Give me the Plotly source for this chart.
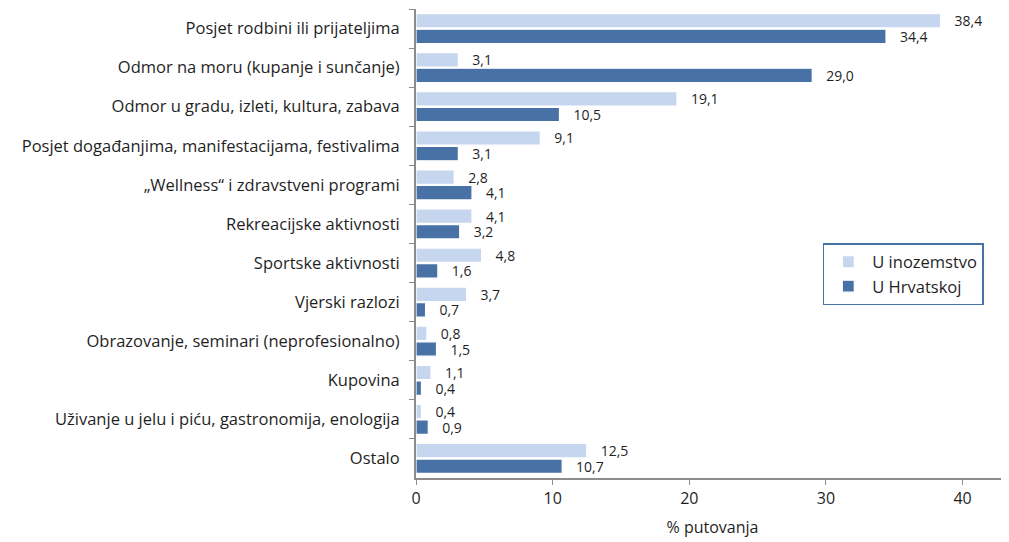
import plotly.graph_objects as go

categories = [
    "Posjet rodbini ili prijateljima",
    "Odmor na moru (kupanje i sunčanje)",
    "Odmor u gradu, izleti, kultura, zabava",
    "Posjet događanjima, manifestacijama, festivalima",
    "„Wellness“ i zdravstveni programi",
    "Rekreacijske aktivnosti",
    "Sportske aktivnosti",
    "Vjerski razlozi",
    "Obrazovanje, seminari (neprofesionalno)",
    "Kupovina",
    "Uživanje u jelu i piću, gastronomija, enologija",
    "Ostalo",
]
abroad = [38.4, 3.1, 19.1, 9.1, 2.8, 4.1, 4.8, 3.7, 0.8, 1.1, 0.4, 12.5]
domestic = [34.4, 29.0, 10.5, 3.1, 4.1, 3.2, 1.6, 0.7, 1.5, 0.4, 0.9, 10.7]
x_ticks = [0, 10, 20, 30, 40]

FONT = "Open Sans"
TEXT = "#1f1f1f"
AXIS = "#8c8c8c"

fig = go.Figure()
for name, vals, color in [
    ("U inozemstvo", abroad, "#C5D6EE"),
    ("U Hrvatskoj", domestic, "#4872A6"),
]:
    fig.add_trace(
        go.Bar(
            y=categories,
            x=vals,
            name=name,
            orientation="h",
            marker=dict(color=color, line=dict(color="white", width=1.2)),
            texttemplate="   %{x:.1f}",
            textposition="outside",
            constraintext="none",
            textfont=dict(family=FONT, size=14, color=TEXT),
            cliponaxis=False,
        )
    )

# page body has an 8px margin, so the figure is 8px smaller than the window
fig.update_layout(
    width=1001,
    height=534,
    margin=dict(l=408, r=0, t=1, b=64),
    barmode="group",
    bargap=0.2,
    bargroupgap=0.08,
    separators=",.",
    plot_bgcolor="white",
    paper_bgcolor="white",
    font=dict(family=FONT, size=16, color=TEXT),
    legend=dict(
        x=0.686,
        y=0.501,
        xanchor="left",
        yanchor="top",
        traceorder="normal",
        bordercolor="#4872A6",
        borderwidth=1.5,
        bgcolor="white",
        font=dict(family=FONT, size=16.5, color=TEXT),
        tracegroupgap=6,
        itemwidth=38,
    ),
    showlegend=True,
)
fig.update_xaxes(
    range=[0, 43.4],
    tickvals=x_ticks,
    ticks="outside",
    ticklen=5,
    tickcolor=AXIS,
    showline=True,
    linecolor=AXIS,
    linewidth=2,
    showgrid=False,
    zeroline=False,
    automargin=False,
    tickfont=dict(size=16),
    title=dict(text="% putovanja", font=dict(size=16), standoff=14),
)
fig.update_yaxes(
    autorange="reversed",
    ticks="outside",
    tickson="boundaries",
    ticklen=5,
    tickcolor=AXIS,
    showline=True,
    linecolor=AXIS,
    linewidth=2,
    showgrid=False,
    automargin=False,
    tickfont=dict(size=16.5),
    ticklabelstandoff=11,
)

fig.write_html("out.html")
